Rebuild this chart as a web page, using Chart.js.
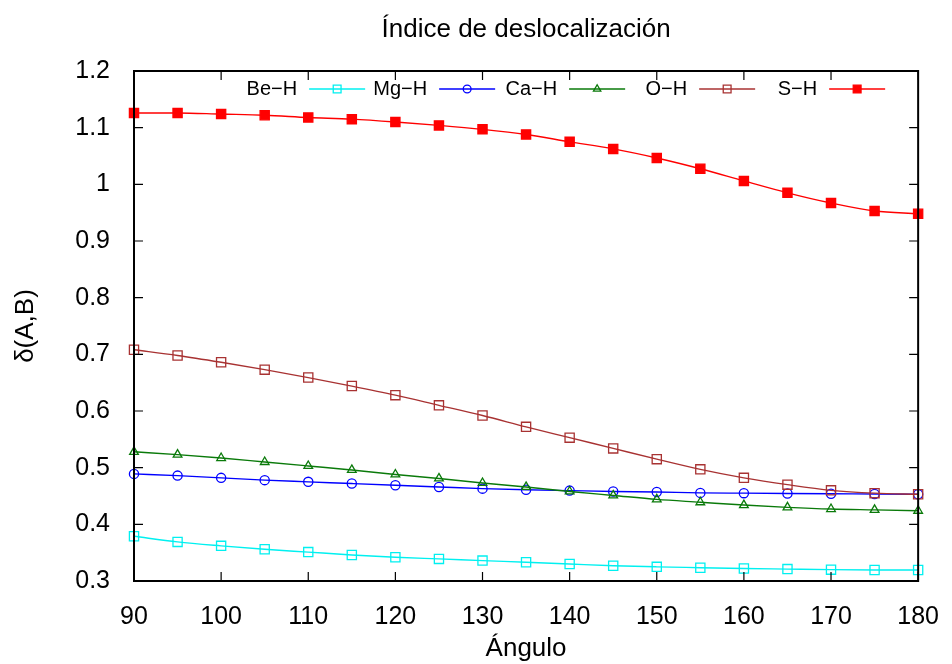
<!DOCTYPE html>
<html>
<head>
<meta charset="utf-8">
<script src="https://cdn.jsdelivr.net/npm/chart.js@4.4.1/dist/chart.umd.min.js"></script>
<style>
  html, body { margin: 0; padding: 0; background: #fff; }
  #wrap { width: 952px; height: 664px; }
</style>
</head>
<body>
<div id="wrap"><canvas id="grafico" width="952" height="664"></canvas></div>
<script>
// angulos (eje x) y valores
const angulos = [90, 95, 100, 105, 110, 115, 120, 125, 130, 135, 140, 145, 150, 155, 160, 165, 170, 175, 180];

const beH = [0.379, 0.369, 0.362, 0.356, 0.351, 0.346, 0.342, 0.339, 0.336, 0.333, 0.330, 0.327, 0.325, 0.3235, 0.322, 0.321, 0.320, 0.3195, 0.3195];
const mgH = [0.489, 0.486, 0.482, 0.478, 0.475, 0.472, 0.469, 0.466, 0.463, 0.461, 0.4595, 0.458, 0.457, 0.4555, 0.455, 0.4545, 0.454, 0.4535, 0.453];
const caH = [0.528, 0.523, 0.517, 0.510, 0.503, 0.496, 0.488, 0.481, 0.473, 0.466, 0.458, 0.451, 0.444, 0.439, 0.434, 0.430, 0.427, 0.4255, 0.424];
const oH  = [0.708, 0.698, 0.686, 0.673, 0.659, 0.644, 0.628, 0.610, 0.592, 0.572, 0.553, 0.534, 0.515, 0.497, 0.482, 0.470, 0.460, 0.455, 0.453];
const sH  = [1.126, 1.126, 1.124, 1.122, 1.118, 1.115, 1.110, 1.104, 1.097, 1.088, 1.075, 1.0625, 1.0465, 1.0275, 1.006, 0.985, 0.967, 0.953, 0.948];

const nombres = ["Be\u2212H", "Mg\u2212H", "Ca\u2212H", "O\u2212H", "S\u2212H"];

const titulo = "\u00cdndice de deslocalizaci\u00f3n";
const tituloX = "\u00c1ngulo";
const tituloY = "\u03b4(A,B)";

const fuente = "'Liberation Sans', Arial, Helvetica, sans-serif";

function puntos(valores) {
    return angulos.map((a, i) => ({ x: a, y: valores[i] }));
}

function serie(label, valores, color, estilo, radio, relleno) {
    return {
        label: label,
        data: puntos(valores),
        borderColor: color,
        backgroundColor: color,
        borderWidth: 1.4,
        pointStyle: estilo,
        pointRadius: radio,
        pointHoverRadius: radio,
        pointBorderWidth: 1.3,
        pointBorderColor: color,
        pointBackgroundColor: relleno ? color : "rgba(0,0,0,0)",
        cubicInterpolationMode: "monotone",
        clip: false,
    };
}

const data = {
    datasets: [
        serie(nombres[4], sH, "#ff0000", "rect", 6.5, true),
        serie(nombres[3], oH, "#a83232", "rect", 6.5, false),
        serie(nombres[2], caH, "#0a7a0a", "triangle", 5, false),
        serie(nombres[1], mgH, "#0000ff", "circle", 4.6, false),
        serie(nombres[0], beH, "#00f0f0", "rect", 6.5, false),
    ],
};

// dibuja un marcador pequeño para la leyenda
function marcador(ctx, ds, x, y) {
    const r = ds.pointRadius * 0.85;
    ctx.save();
    ctx.strokeStyle = ds.pointBorderColor;
    ctx.fillStyle = ds.pointBackgroundColor;
    ctx.lineWidth = ds.pointBorderWidth;
    ctx.beginPath();
    if (ds.pointStyle === "rect") {
        const s = r * Math.SQRT1_2;
        ctx.rect(x - s, y - s, 2 * s, 2 * s);
    } else if (ds.pointStyle === "circle") {
        ctx.arc(x, y, r, 0, Math.PI * 2);
    } else if (ds.pointStyle === "triangle") {
        ctx.moveTo(x, y - r);
        ctx.lineTo(x + r * 0.866, y + r * 0.5);
        ctx.lineTo(x - r * 0.866, y + r * 0.5);
        ctx.closePath();
    }
    ctx.fill();
    ctx.stroke();
    ctx.restore();
}

// marco, marcas hacia dentro, titulo y leyenda al estilo gnuplot
const estiloGnuplot = {
    id: "estiloGnuplot",
    afterDraw(chart) {
        const ctx = chart.ctx;
        const area = chart.chartArea;
        const xs = chart.scales.x;
        const ys = chart.scales.y;
        const largo = 9;

        ctx.save();
        ctx.strokeStyle = "#000";
        ctx.lineWidth = 1.2;
        ctx.beginPath();
        xs.ticks.forEach((t) => {
            const px = xs.getPixelForValue(t.value);
            ctx.moveTo(px, area.bottom);
            ctx.lineTo(px, area.bottom - largo);
            ctx.moveTo(px, area.top);
            ctx.lineTo(px, area.top + largo);
        });
        ys.ticks.forEach((t) => {
            const py = ys.getPixelForValue(t.value);
            ctx.moveTo(area.left, py);
            ctx.lineTo(area.left + largo, py);
            ctx.moveTo(area.right, py);
            ctx.lineTo(area.right - largo, py);
        });
        ctx.stroke();

        ctx.lineWidth = 2;
        ctx.strokeRect(area.left, area.top, area.right - area.left, area.bottom - area.top);

        // titulo
        ctx.fillStyle = "#000";
        ctx.font = "26px " + fuente;
        ctx.textAlign = "center";
        ctx.textBaseline = "middle";
        ctx.fillText(titulo, (area.left + area.right) / 2, 30);

        // leyenda: texto y luego la muestra
        const orden = chart.data.datasets.slice().reverse();
        const paso = 130, lineaLargo = 56, hueco = 12;
        const fin = area.right - 33;
        const yLey = area.top + 18;
        ctx.font = "20px " + fuente;
        ctx.textAlign = "right";
        orden.forEach((ds, i) => {
            const x1 = fin - paso * (orden.length - 1 - i);
            const x0 = x1 - lineaLargo;
            ctx.fillStyle = "#000";
            ctx.fillText(ds.label, x0 - hueco, yLey);
            ctx.strokeStyle = ds.borderColor;
            ctx.lineWidth = ds.borderWidth;
            ctx.beginPath();
            ctx.moveTo(x0, yLey);
            ctx.lineTo(x1, yLey);
            ctx.stroke();
            marcador(ctx, ds, (x0 + x1) / 2, yLey);
        });
        ctx.restore();
    },
};

const config = {
    type: "line",
    data: data,
    options: {
        responsive: false,
        animation: false,
        layout: { padding: { top: 71, right: 26, bottom: 0, left: 0 } },
        plugins: {
            legend: { display: false },
            title: { display: false },
            tooltip: { enabled: false },
        },
        scales: {
            x: {
                type: "linear",
                min: 90,
                max: 180,
                grid: { display: false },
                border: { display: false },
                ticks: {
                    stepSize: 10,
                    color: "#000",
                    padding: 13,
                    maxRotation: 0,
                    font: { family: fuente, size: 25 },
                },
                title: {
                    display: true,
                    text: tituloX,
                    color: "#000",
                    padding: { top: 0, bottom: 0 },
                    font: { family: fuente, size: 26 },
                },
                afterFit(s) { s.height = 83; },
            },
            y: {
                min: 0.3,
                max: 1.2,
                grid: { display: false },
                border: { display: false },
                ticks: {
                    stepSize: 0.1,
                    color: "#000",
                    padding: 16,
                    font: { family: fuente, size: 25 },
                    callback: (v) => String(Number(v.toFixed(1))),
                },
                title: {
                    display: true,
                    text: tituloY,
                    color: "#000",
                    padding: { top: 10, bottom: 0 },
                    font: { family: fuente, size: 26 },
                },
                afterFit(s) { s.width = 134; },
            },
        },
    },
    plugins: [estiloGnuplot],
};

const myChart = new Chart(document.getElementById("grafico"), config);
</script>
</body>
</html>
